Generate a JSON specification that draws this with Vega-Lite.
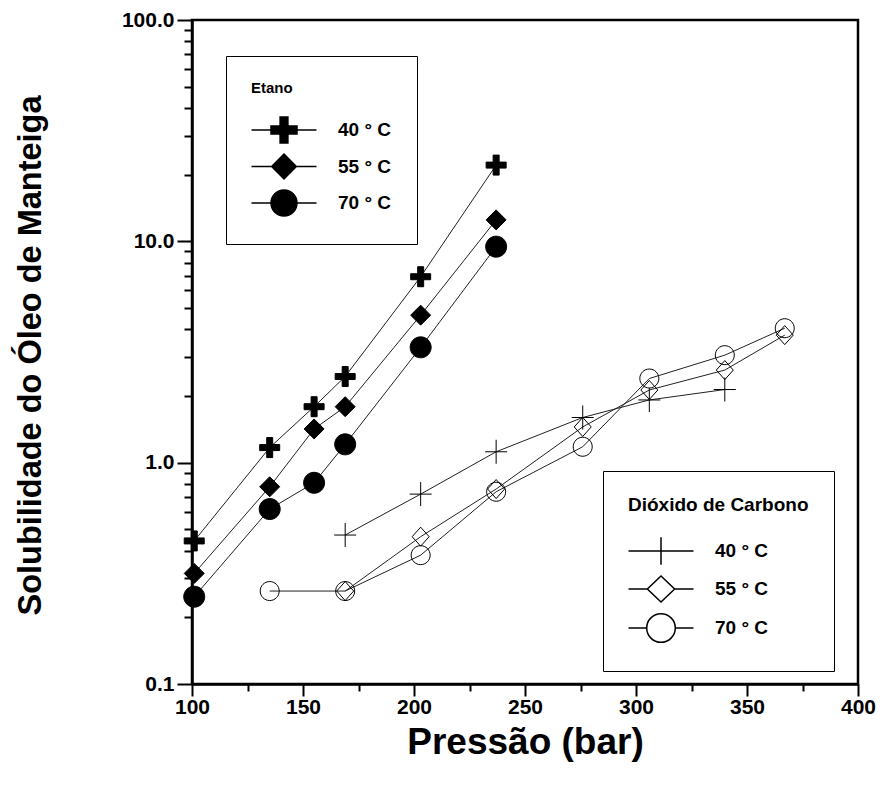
{
  "$schema": "https://vega.github.io/schema/vega-lite/v6.json",
  "width": 666,
  "height": 664,
  "autosize": "none",
  "padding": {"left": 192, "top": 20, "right": 33, "bottom": 104},
  "background": "white",
  "config": {
    "view": {"stroke": "black", "strokeWidth": 2.5},
    "font": "Liberation Sans",
    "axis": {"grid": false, "domainColor": "black", "domainWidth": 2.5, "tickColor": "black", "tickWidth": 2, "labelColor": "black", "labelFont": "Liberation Sans", "labelFontWeight": "bold", "labelFontSize": 21, "titleColor": "black", "titleFont": "Liberation Sans", "titleFontWeight": "bold"}
  },
  "data": {"values": [
    {"gas": "Etano", "temp": "40 ° C", "p": 101, "s": 0.443},
    {"gas": "Etano", "temp": "40 ° C", "p": 135, "s": 1.17},
    {"gas": "Etano", "temp": "40 ° C", "p": 155, "s": 1.79},
    {"gas": "Etano", "temp": "40 ° C", "p": 169, "s": 2.45},
    {"gas": "Etano", "temp": "40 ° C", "p": 203, "s": 6.92},
    {"gas": "Etano", "temp": "40 ° C", "p": 237, "s": 22.1},
    {"gas": "Etano", "temp": "55 ° C", "p": 101, "s": 0.316},
    {"gas": "Etano", "temp": "55 ° C", "p": 135, "s": 0.778},
    {"gas": "Etano", "temp": "55 ° C", "p": 155, "s": 1.42},
    {"gas": "Etano", "temp": "55 ° C", "p": 169, "s": 1.79},
    {"gas": "Etano", "temp": "55 ° C", "p": 203, "s": 4.64},
    {"gas": "Etano", "temp": "55 ° C", "p": 237, "s": 12.5},
    {"gas": "Etano", "temp": "70 ° C", "p": 101, "s": 0.248},
    {"gas": "Etano", "temp": "70 ° C", "p": 135, "s": 0.617},
    {"gas": "Etano", "temp": "70 ° C", "p": 155, "s": 0.811},
    {"gas": "Etano", "temp": "70 ° C", "p": 169, "s": 1.21},
    {"gas": "Etano", "temp": "70 ° C", "p": 203, "s": 3.32},
    {"gas": "Etano", "temp": "70 ° C", "p": 237, "s": 9.46},
    {"gas": "CO2", "temp": "40 ° C", "p": 169, "s": 0.471},
    {"gas": "CO2", "temp": "40 ° C", "p": 203, "s": 0.721},
    {"gas": "CO2", "temp": "40 ° C", "p": 237, "s": 1.12},
    {"gas": "CO2", "temp": "40 ° C", "p": 276, "s": 1.60},
    {"gas": "CO2", "temp": "40 ° C", "p": 306, "s": 1.92},
    {"gas": "CO2", "temp": "40 ° C", "p": 340, "s": 2.14},
    {"gas": "CO2", "temp": "55 ° C", "p": 169, "s": 0.263},
    {"gas": "CO2", "temp": "55 ° C", "p": 203, "s": 0.463},
    {"gas": "CO2", "temp": "55 ° C", "p": 237, "s": 0.760},
    {"gas": "CO2", "temp": "55 ° C", "p": 276, "s": 1.45},
    {"gas": "CO2", "temp": "55 ° C", "p": 306, "s": 2.13},
    {"gas": "CO2", "temp": "55 ° C", "p": 340, "s": 2.62},
    {"gas": "CO2", "temp": "55 ° C", "p": 367, "s": 3.77},
    {"gas": "CO2", "temp": "70 ° C", "p": 135, "s": 0.263},
    {"gas": "CO2", "temp": "70 ° C", "p": 169, "s": 0.263},
    {"gas": "CO2", "temp": "70 ° C", "p": 203, "s": 0.382},
    {"gas": "CO2", "temp": "70 ° C", "p": 237, "s": 0.739},
    {"gas": "CO2", "temp": "70 ° C", "p": 276, "s": 1.18},
    {"gas": "CO2", "temp": "70 ° C", "p": 306, "s": 2.40},
    {"gas": "CO2", "temp": "70 ° C", "p": 340, "s": 3.06},
    {"gas": "CO2", "temp": "70 ° C", "p": 367, "s": 4.05}
  ]},
  "encoding": {
    "x": {
      "field": "p", "type": "quantitative",
      "scale": {"domain": [100, 400], "nice": false, "zero": false},
      "axis": {
        "title": "Pressão (bar)",
        "titleFontSize": 37,
        "values": [100, 125, 150, 175, 200, 225, 250, 275, 300, 325, 350, 375, 400],
        "labelExpr": "datum.value % 50 === 0 ? datum.label : ''",
        "labelFlush": false,
        "labelOverlap": false,
        "tickSize": {"condition": {"test": "datum.value % 50 === 0", "value": 12}, "value": 7},
        "labelPadding": 0,
        "titleY": 58,
        "titleBaseline": "middle"
      }
    },
    "y": {
      "field": "s", "type": "quantitative",
      "scale": {"type": "log", "domain": [0.1, 100], "nice": false},
      "axis": {
        "title": "Solubilidade do Óleo de Manteiga",
        "titleFontSize": 32.5,
        "values": [0.1, 0.2, 0.3, 0.4, 0.5, 0.6, 0.7, 0.8, 0.9, 1, 2, 3, 4, 5, 6, 7, 8, 9, 10, 20, 30, 40, 50, 60, 70, 80, 90, 100],
        "labelExpr": "datum.value === 0.1 ? '0.1' : datum.value === 1 ? '1.0' : datum.value === 10 ? '10.0' : datum.value === 100 ? '100.0' : ''",
        "labelFlush": false,
        "labelOverlap": false,
        "tickSize": {"condition": {"test": "datum.value === 0.1 || datum.value === 1 || datum.value === 10 || datum.value === 100", "value": 15}, "value": 8},
        "labelPadding": 3,
        "titleX": -162,
        "titleY": 335,
        "titleAngle": -90,
        "titleAlign": "center",
        "titleBaseline": "middle"
      }
    }
  },
  "layer": [
    {
      "transform": [{"filter": "datum.gas === 'Etano'"}],
      "mark": {"type": "line", "stroke": "#222", "strokeWidth": 1},
      "encoding": {"detail": {"field": "temp"}, "order": {"field": "p", "type": "quantitative"}}
    },
    {
      "transform": [{"filter": "datum.gas === 'CO2'"}],
      "mark": {"type": "line", "stroke": "#222", "strokeWidth": 1},
      "encoding": {"detail": {"field": "temp"}, "order": {"field": "p", "type": "quantitative"}}
    },
    {
      "transform": [{"filter": "datum.gas === 'Etano'"}],
      "mark": {"type": "point", "filled": true, "fill": "black", "stroke": "black", "strokeWidth": 1, "opacity": 1, "size": 400},
      "encoding": {
        "shape": {
          "field": "temp", "type": "nominal", "legend": null,
          "scale": {"domain": ["40 ° C", "55 ° C", "70 ° C"], "range": ["M-1,-0.3H-0.3V-1H0.3V-0.3H1V0.3H0.3V1H-0.3V0.3H-1Z", "M0,-1L1,0L0,1L-1,0Z", "M1.05,0A1.05,1.05,0,1,1,-1.05,0A1.05,1.05,0,1,1,1.05,0Z"]}
        }
      }
    },
    {
      "transform": [{"filter": "datum.gas === 'CO2'"}],
      "mark": {"type": "point", "filled": false, "fill": "transparent", "stroke": "black", "strokeWidth": 1, "opacity": 1, "size": 400},
      "encoding": {
        "shape": {
          "field": "temp", "type": "nominal", "legend": null,
          "scale": {"domain": ["40 ° C", "55 ° C", "70 ° C"], "range": ["M-1.1,0H1.1M0,-1.2V1.2", "M0,-0.95L0.85,0L0,0.95L-0.85,0Z", "M0.95,0A0.95,0.95,0,1,1,-0.95,0A0.95,0.95,0,1,1,0.95,0Z"]}
        }
      }
    },
    {
      "transform": [{"filter": "datum.gas === 'Etano'"}],
      "mark": {"type": "point", "filled": true, "fill": "black", "stroke": "black", "strokeWidth": 1, "opacity": 1, "size": 0},
      "encoding": {
        "shape": {
          "field": "temp", "type": "nominal",
          "scale": {"domain": ["40 ° C", "55 ° C", "70 ° C"], "range": ["M-2.5,0H2.5M-1,-0.3H-0.3V-1H0.3V-0.3H1V0.3H0.3V1H-0.3V0.3H-1Z", "M-2.5,0H2.5M0,-0.95L0.95,0L0,0.95L-0.95,0Z", "M-2.5,0H2.5M1,0A1,1,0,1,1,-1,0A1,1,0,1,1,1,0Z"]},
          "legend": {
            "title": "Etano",
            "orient": "none",
            "legendX": 34,
            "legendY": 36,
            "padding": 25,
            "strokeColor": "black",
            "fillColor": "white",
            "titleFont": "Liberation Sans", "titleFontWeight": "bold", "titleFontSize": 15, "titleColor": "black", "titlePadding": 20, "titleLimit": 400,
            "labelFont": "Liberation Sans", "labelFontWeight": "bold", "labelFontSize": 19, "labelColor": "black", "labelOffset": 40,
            "symbolSize": 676,
            "symbolOffset": 19,
            "rowPadding": 4.5,
            "encode": {
              "legend": {"strokeWidth": {"value": 1.5}},
              "symbols": {
                "size": {"value": 676},
                "fill": {"value": "black"},
                "stroke": {"value": "black"},
                "strokeWidth": {"value": 1},
                "opacity": {"value": 1}
              }
            }
          }
        }
      }
    },
    {
      "transform": [{"filter": "datum.gas === 'CO2'"}],
      "mark": {"type": "point", "filled": false, "fill": "transparent", "stroke": "black", "strokeWidth": 1, "opacity": 1, "size": 0},
      "encoding": {
        "shape": {
          "field": "temp", "type": "nominal",
          "scale": {"domain": ["40 ° C", "55 ° C", "70 ° C"], "range": ["M-2.5,0H2.5M0,-1.05V1.05", "M-2.5,0H-1.05M1.05,0H2.5M0,-1L1.05,0L0,1L-1.05,0Z", "M-2.5,0H-1.1M1.1,0H2.5M1.1,0A1.1,1.1,0,1,1,-1.1,0A1.1,1.1,0,1,1,1.1,0Z"]},
          "legend": {
            "title": "Dióxido de Carbono",
            "orient": "none",
            "legendX": 411,
            "legendY": 451,
            "padding": 25,
            "strokeColor": "black",
            "fillColor": "white",
            "titleFont": "Liberation Sans", "titleFontWeight": "bold", "titleFontSize": 19, "titleColor": "black", "titlePadding": 22, "titleLimit": 400,
            "labelFont": "Liberation Sans", "labelFontWeight": "bold", "labelFontSize": 19, "labelColor": "black", "labelOffset": 40,
            "symbolSize": 676,
            "symbolOffset": 19,
            "rowPadding": 5,
            "encode": {
              "legend": {"strokeWidth": {"value": 1.5}},
              "symbols": {
                "size": {"value": 676},
                "fill": {"value": "transparent"},
                "stroke": {"value": "black"},
                "strokeWidth": {"value": 1},
                "opacity": {"value": 1}
              }
            }
          }
        }
      }
    }
  ],
  "resolve": {"scale": {"shape": "independent"}, "legend": {"shape": "independent"}}
}
